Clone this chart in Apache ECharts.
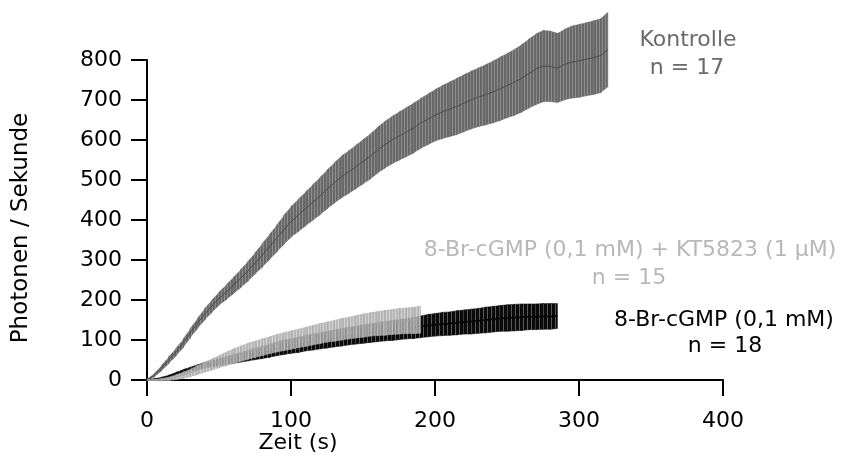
<!DOCTYPE html>
<html>
<head>
<meta charset="utf-8">
<script src="https://cdn.jsdelivr.net/npm/echarts@6/dist/echarts.min.js"></script>
<style>
html,body{margin:0;padding:0;background:#fff;}
#chart{width:843px;height:459px;}
</style>
</head>
<body>
<div id="chart"></div>
<script>
// ---- data (time in s, values in Photonen / Sekunde) ----
const xTicks = [0, 100, 200, 300, 400];
const yTicks = [0, 100, 200, 300, 400, 500, 600, 700, 800];

// Kontrolle (n = 17)
const kTime = [0,5,10,15,20,25,30,35,40,45,50,55,60,65,70,75,80,85,90,95,100,105,110,115,120,125,130,135,140,145,150,155,160,165,170,175,180,185,190,195,200,205,210,215,220,225,230,235,240,245,250,255,260,265,270,275,280,285,290,295,300,305,310,315,320];
const kMean = [0,12,30,50,70,92,118,142,165,185,204,220,237,254,272,292,312,333,354,376,396,412,428,444,460,477,493,508,520,533,546,559,575,588,600,610,620,630,642,652,662,670,677,684,692,700,707,713,720,728,736,744,754,766,777,785,784,780,789,795,798,802,806,811,826];
const kErr  = [2,4,6,8,9,10,11,12,14,15,16,18,20,22,24,26,29,31,33,36,38,40,42,44,46,48,50,52,53,54,55,56,57,58,59,60,61,62,62,63,64,66,68,70,71,72,73,75,77,79,80,82,84,86,88,89,88,86,88,90,91,91,92,92,93];

// 8-Br-cGMP (0,1 mM) (n = 18)
const bTime = [0,5,10,15,20,25,30,35,40,45,50,55,60,65,70,75,80,85,90,95,100,105,110,115,120,125,130,135,140,145,150,155,160,165,170,175,180,185,190,195,200,205,210,215,220,225,230,235,240,245,250,255,260,265,270,275,280,285];
const bMean = [0,1,4,9,15,21,27,32,37,41,45,49,53,57,61,65,69,73,78,82,85,88,92,95,98,101,104,107,110,112,115,117,120,122,124,126,128,130,133,136,138,140,141,143,145,146,148,150,152,154,155,156,157,158,158,159,159,160];
const bErr  = [1,2,3,3,4,5,5,6,7,8,9,10,11,12,13,14,15,16,17,18,18,19,19,20,20,21,21,22,22,22,23,23,24,24,25,25,25,26,27,28,28,29,29,30,30,31,31,32,32,32,33,33,33,32,32,32,32,31];

// 8-Br-cGMP (0,1 mM) + KT5823 (1 µM) (n = 15)
const gTime = [0,5,10,15,20,25,30,35,40,45,50,55,60,65,70,75,80,85,90,95,100,105,110,115,120,125,130,135,140,145,150,155,160,165,170,175,180,185,190];
const gMean = [0,0,1,3,7,12,18,25,32,39,46,53,60,66,72,77,82,87,92,96,100,104,108,112,116,120,123,127,130,133,136,139,141,143,145,147,148,149,151];
const gErr  = [1,1,3,4,6,8,9,11,12,14,15,17,18,19,20,20,21,21,22,22,23,23,24,24,25,25,26,27,27,28,29,29,30,31,31,32,32,33,34];

const labelK = ['Kontrolle', 'n = 17'];
const labelG = ['8-Br-cGMP (0,1 mM) + KT5823 (1 µM)', 'n = 15'];
const labelB = ['8-Br-cGMP (0,1 mM)', 'n = 18'];
const xName = 'Zeit (s)';
const yName = 'Photonen / Sekunde';

// ---- build ----
const FONT = 'DejaVu Sans';
const FS = 22;
function zip(t, m, e) { return t.map((v, i) => [v, m[i], e[i]]); }
function lineData(t, m) { return t.map((v, i) => [v, m[i]]); }

// vertical stripe pattern imitating densely packed error bars
function stripes(dark, light, darkW) {
  const c = document.createElement('canvas');
  c.width = darkW + 1; c.height = 4;
  const g = c.getContext('2d');
  g.fillStyle = dark; g.fillRect(0, 0, darkW, 4);
  g.fillStyle = light; g.fillRect(darkW, 0, 1, 4);
  return { image: c, repeat: 'repeat' };
}

function makeBand(times, means, errs, fill, edge, opacity) {
  return function (params, api) {
    const i = params.dataIndex;
    if (i >= times.length - 1) return null;
    const a1 = api.coord([times[i], means[i] + errs[i]]);
    const b1 = api.coord([times[i], means[i] - errs[i]]);
    const a2 = api.coord([times[i + 1], means[i + 1] + errs[i + 1]]);
    const b2 = api.coord([times[i + 1], means[i + 1] - errs[i + 1]]);
    const ext = (i < times.length - 2) ? 0.7 : 0;
    return {
      type: 'polygon',
      shape: { points: [[a1[0], a1[1]], [a2[0] + ext, a2[1]], [b2[0] + ext, b2[1]], [b1[0], b1[1]]] },
      style: { fill: fill, stroke: edge, lineWidth: 0.6, opacity: opacity }
    };
  };
}

const chart = echarts.init(document.getElementById('chart'), null, { renderer: 'canvas' });
const axisCommon = {
  type: 'value',
  axisLine: { show: true, onZero: true, lineStyle: { color: '#000', width: 2 } },
  axisTick: { show: true, inside: false, length: 16, lineStyle: { color: '#000', width: 2 } },
  splitLine: { show: false },
  axisLabel: { color: '#000', fontSize: FS, fontFamily: FONT }
};
function txt(x, y, s, color) {
  return { type: 'text', x: x, y: y, style: { text: s, fill: color, font: FS + 'px "' + FONT + '"', textAlign: 'center', textVerticalAlign: 'middle' } };
}

const option = {
  animation: false,
  backgroundColor: '#fff',
  grid: { left: 147, right: 120, top: 60, bottom: 79, containLabel: false },
  xAxis: Object.assign({}, axisCommon, {
    min: xTicks[0], max: xTicks[xTicks.length - 1], interval: xTicks[1] - xTicks[0],
    axisLabel: Object.assign({}, axisCommon.axisLabel, { margin: 30 })
  }),
  yAxis: Object.assign({}, axisCommon, {
    min: yTicks[0], max: yTicks[yTicks.length - 1], interval: yTicks[1] - yTicks[0],
    axisLabel: Object.assign({}, axisCommon.axisLabel, { margin: 25 }),
    name: yName, nameLocation: 'middle', nameRotate: 90, nameGap: 114,
    nameTextStyle: { color: '#000', fontSize: 23, fontFamily: FONT, padding: [0, 16, 0, 0] }
  }),
  series: [
    { type: 'custom', name: labelK[0], clip: false, renderItem: makeBand(kTime, kMean, kErr, stripes('#686868', '#8e8e8e', 2), '#6c6c6c', 1), data: zip(kTime, kMean, kErr), z: 2 },
    { type: 'line', clip: false, showSymbol: false, symbol: 'none', data: lineData(kTime, kMean), lineStyle: { color: '#4a4a4a', width: 1 }, z: 3 },
    { type: 'custom', name: labelB[0], clip: false, renderItem: makeBand(bTime, bMean, bErr, stripes('#0a0a0a', '#5a5a5a', 3), '#111', 1), data: zip(bTime, bMean, bErr), z: 4 },
    { type: 'line', clip: false, showSymbol: false, symbol: 'none', data: lineData(bTime, bMean), lineStyle: { color: '#000', width: 1.5 }, z: 5 },
    { type: 'custom', name: labelG[0], clip: false, renderItem: makeBand(gTime, gMean, gErr, stripes('#acacac', '#cbcbcb', 2), '#b0b0b0', 0.85), data: zip(gTime, gMean, gErr), z: 6 },
    { type: 'line', clip: false, showSymbol: false, symbol: 'none', data: lineData(gTime, gMean), lineStyle: { color: '#a4a4a4', width: 1 }, z: 7 }
  ],
  graphic: [
    txt(688, 40, labelK[0], '#6a6a6a'),
    txt(687, 68, labelK[1], '#6a6a6a'),
    txt(630, 250, labelG[0], '#b8b8b8'),
    txt(629, 278, labelG[1], '#b8b8b8'),
    txt(724, 320, labelB[0], '#000'),
    txt(725, 346, labelB[1], '#000'),
    txt(298, 443, xName, '#000')
  ]
};
chart.setOption(option);
</script>
</body>
</html>
